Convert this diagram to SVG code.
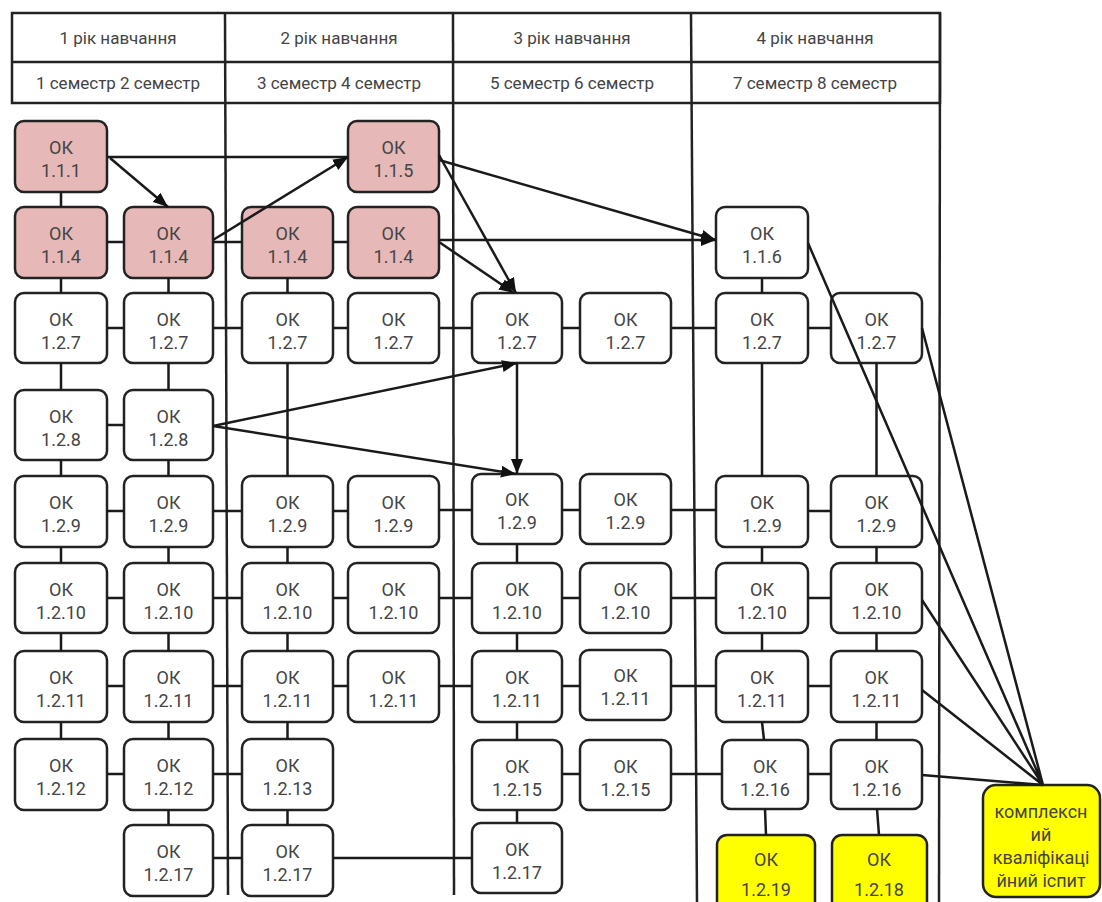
<svg xmlns="http://www.w3.org/2000/svg" width="1102" height="902" viewBox="0 0 1102 902">
<style>
.grid{stroke:#222;stroke-width:2.5;fill:none}
.hd{font-family:Roboto,"Liberation Sans",sans-serif;font-size:17px;fill:#444;text-anchor:middle}
.box{fill:#fff;stroke:#222;stroke-width:2.5}
.pk{fill:#e6b9b8}
.yl{fill:#ffff00}
.t{font-family:Roboto,"Liberation Sans",sans-serif;font-size:18px;fill:#444;text-anchor:middle}
.c{stroke:#1a1a1a;stroke-width:2.5;fill:none}
.a{stroke:#1a1a1a;stroke-width:2.5;fill:none;marker-end:url(#ah)}
</style>
<defs>
<marker id="ah" markerUnits="userSpaceOnUse" markerWidth="16" markerHeight="12" refX="15" refY="6" orient="auto"><path d="M0,0 L15,6 L0,12 z" fill="#111"/></marker>
</defs>
<rect width="1102" height="902" fill="#fff"/>
<g id="table">
<rect class="grid" x="12" y="13" width="928" height="90"/>
<line class="grid" x1="12" y1="62" x2="940" y2="62"/>
<line class="grid" x1="225" y1="13" x2="228" y2="895"/>
<line class="grid" x1="453" y1="13" x2="454" y2="895"/>
<line class="grid" x1="691" y1="13" x2="697" y2="902"/>
<line class="grid" x1="940" y1="13" x2="939" y2="902"/>
<text class="hd" x="118" y="44">1 рік навчання</text>
<text class="hd" x="339" y="44">2 рік навчання</text>
<text class="hd" x="572" y="44">3 рік навчання</text>
<text class="hd" x="815" y="44">4 рік навчання</text>
<text class="hd" x="118" y="89">1 семестр 2 семестр</text>
<text class="hd" x="339" y="89">3 семестр 4 семестр</text>
<text class="hd" x="572" y="89">5 семестр 6 семестр</text>
<text class="hd" x="815" y="89">7 семестр 8 семестр</text>
</g>
<g id="n-c1r1"><rect class="box pk" x="15" y="121" width="92" height="71" rx="9"/><text class="t" x="61" y="154">ОК</text><text class="t" x="61" y="177">1.1.1</text></g>
<g id="n-c4r1"><rect class="box pk" x="348" y="121" width="91" height="71" rx="9"/><text class="t" x="393.5" y="154">ОК</text><text class="t" x="393.5" y="177">1.1.5</text></g>
<g id="n-c1r2"><rect class="box pk" x="15" y="207" width="92" height="71" rx="9"/><text class="t" x="61" y="240">ОК</text><text class="t" x="61" y="263">1.1.4</text></g>
<g id="n-c2r2"><rect class="box pk" x="124" y="207" width="89" height="71" rx="9"/><text class="t" x="168.5" y="240">ОК</text><text class="t" x="168.5" y="263">1.1.4</text></g>
<g id="n-c3r2"><rect class="box pk" x="242" y="207" width="91" height="71" rx="9"/><text class="t" x="287.5" y="240">ОК</text><text class="t" x="287.5" y="263">1.1.4</text></g>
<g id="n-c4r2"><rect class="box pk" x="348" y="207" width="91" height="71" rx="9"/><text class="t" x="393.5" y="240">ОК</text><text class="t" x="393.5" y="263">1.1.4</text></g>
<g id="n-c7r2"><rect class="box" x="716" y="207" width="92" height="71" rx="9"/><text class="t" x="762" y="240">ОК</text><text class="t" x="762" y="263">1.1.6</text></g>
<g id="n-c1r3"><rect class="box" x="15" y="293" width="92" height="70" rx="9"/><text class="t" x="61" y="326">ОК</text><text class="t" x="61" y="349">1.2.7</text></g>
<g id="n-c2r3"><rect class="box" x="124" y="293" width="89" height="70" rx="9"/><text class="t" x="168.5" y="326">ОК</text><text class="t" x="168.5" y="349">1.2.7</text></g>
<g id="n-c3r3"><rect class="box" x="242" y="293" width="91" height="70" rx="9"/><text class="t" x="287.5" y="326">ОК</text><text class="t" x="287.5" y="349">1.2.7</text></g>
<g id="n-c4r3"><rect class="box" x="348" y="293" width="91" height="70" rx="9"/><text class="t" x="393.5" y="326">ОК</text><text class="t" x="393.5" y="349">1.2.7</text></g>
<g id="n-c5r3"><rect class="box" x="472" y="293" width="90" height="70" rx="9"/><text class="t" x="517" y="326">ОК</text><text class="t" x="517" y="349">1.2.7</text></g>
<g id="n-c6r3"><rect class="box" x="580" y="293" width="91" height="70" rx="9"/><text class="t" x="625.5" y="326">ОК</text><text class="t" x="625.5" y="349">1.2.7</text></g>
<g id="n-c7r3"><rect class="box" x="716" y="293" width="92" height="70" rx="9"/><text class="t" x="762" y="326">ОК</text><text class="t" x="762" y="349">1.2.7</text></g>
<g id="n-c8r3"><rect class="box" x="831" y="293" width="91" height="70" rx="9"/><text class="t" x="876.5" y="326">ОК</text><text class="t" x="876.5" y="349">1.2.7</text></g>
<g id="n-c1r4"><rect class="box" x="15" y="390" width="92" height="70" rx="9"/><text class="t" x="61" y="423">ОК</text><text class="t" x="61" y="446">1.2.8</text></g>
<g id="n-c2r4"><rect class="box" x="124" y="390" width="89" height="70" rx="9"/><text class="t" x="168.5" y="423">ОК</text><text class="t" x="168.5" y="446">1.2.8</text></g>
<g id="n-c1r5"><rect class="box" x="15" y="476" width="92" height="71" rx="9"/><text class="t" x="61" y="509">ОК</text><text class="t" x="61" y="532">1.2.9</text></g>
<g id="n-c2r5"><rect class="box" x="124" y="476" width="89" height="71" rx="9"/><text class="t" x="168.5" y="509">ОК</text><text class="t" x="168.5" y="532">1.2.9</text></g>
<g id="n-c3r5"><rect class="box" x="242" y="476" width="91" height="71" rx="9"/><text class="t" x="287.5" y="509">ОК</text><text class="t" x="287.5" y="532">1.2.9</text></g>
<g id="n-c4r5"><rect class="box" x="348" y="476" width="91" height="71" rx="9"/><text class="t" x="393.5" y="509">ОК</text><text class="t" x="393.5" y="532">1.2.9</text></g>
<g id="n-c5r5"><rect class="box" x="472" y="474" width="90" height="70" rx="9"/><text class="t" x="517" y="506">ОК</text><text class="t" x="517" y="529">1.2.9</text></g>
<g id="n-c6r5"><rect class="box" x="580" y="474" width="91" height="70" rx="9"/><text class="t" x="625.5" y="506">ОК</text><text class="t" x="625.5" y="529">1.2.9</text></g>
<g id="n-c7r5"><rect class="box" x="716" y="476" width="92" height="71" rx="9"/><text class="t" x="762" y="509">ОК</text><text class="t" x="762" y="532">1.2.9</text></g>
<g id="n-c8r5"><rect class="box" x="831" y="476" width="91" height="71" rx="9"/><text class="t" x="876.5" y="509">ОК</text><text class="t" x="876.5" y="532">1.2.9</text></g>
<g id="n-c1r6"><rect class="box" x="15" y="563" width="92" height="70" rx="9"/><text class="t" x="61" y="596">ОК</text><text class="t" x="61" y="619">1.2.10</text></g>
<g id="n-c2r6"><rect class="box" x="124" y="563" width="89" height="70" rx="9"/><text class="t" x="168.5" y="596">ОК</text><text class="t" x="168.5" y="619">1.2.10</text></g>
<g id="n-c3r6"><rect class="box" x="242" y="563" width="91" height="70" rx="9"/><text class="t" x="287.5" y="596">ОК</text><text class="t" x="287.5" y="619">1.2.10</text></g>
<g id="n-c4r6"><rect class="box" x="348" y="563" width="91" height="70" rx="9"/><text class="t" x="393.5" y="596">ОК</text><text class="t" x="393.5" y="619">1.2.10</text></g>
<g id="n-c5r6"><rect class="box" x="472" y="563" width="90" height="70" rx="9"/><text class="t" x="517" y="596">ОК</text><text class="t" x="517" y="619">1.2.10</text></g>
<g id="n-c6r6"><rect class="box" x="580" y="563" width="91" height="70" rx="9"/><text class="t" x="625.5" y="596">ОК</text><text class="t" x="625.5" y="619">1.2.10</text></g>
<g id="n-c7r6"><rect class="box" x="716" y="563" width="92" height="70" rx="9"/><text class="t" x="762" y="596">ОК</text><text class="t" x="762" y="619">1.2.10</text></g>
<g id="n-c8r6"><rect class="box" x="831" y="563" width="91" height="70" rx="9"/><text class="t" x="876.5" y="596">ОК</text><text class="t" x="876.5" y="619">1.2.10</text></g>
<g id="n-c1r7"><rect class="box" x="15" y="651" width="92" height="71" rx="9"/><text class="t" x="61" y="684">ОК</text><text class="t" x="61" y="707">1.2.11</text></g>
<g id="n-c2r7"><rect class="box" x="124" y="651" width="89" height="71" rx="9"/><text class="t" x="168.5" y="684">ОК</text><text class="t" x="168.5" y="707">1.2.11</text></g>
<g id="n-c3r7"><rect class="box" x="242" y="651" width="91" height="71" rx="9"/><text class="t" x="287.5" y="684">ОК</text><text class="t" x="287.5" y="707">1.2.11</text></g>
<g id="n-c4r7"><rect class="box" x="348" y="651" width="91" height="71" rx="9"/><text class="t" x="393.5" y="684">ОК</text><text class="t" x="393.5" y="707">1.2.11</text></g>
<g id="n-c5r7"><rect class="box" x="472" y="651" width="90" height="71" rx="9"/><text class="t" x="517" y="684">ОК</text><text class="t" x="517" y="707">1.2.11</text></g>
<g id="n-c6r7"><rect class="box" x="580" y="650" width="91" height="70" rx="9"/><text class="t" x="625.5" y="682">ОК</text><text class="t" x="625.5" y="705">1.2.11</text></g>
<g id="n-c7r7"><rect class="box" x="716" y="651" width="92" height="71" rx="9"/><text class="t" x="762" y="684">ОК</text><text class="t" x="762" y="707">1.2.11</text></g>
<g id="n-c8r7"><rect class="box" x="831" y="651" width="91" height="71" rx="9"/><text class="t" x="876.5" y="684">ОК</text><text class="t" x="876.5" y="707">1.2.11</text></g>
<g id="n-c1r8"><rect class="box" x="15" y="739" width="92" height="71" rx="9"/><text class="t" x="61" y="772">ОК</text><text class="t" x="61" y="795">1.2.12</text></g>
<g id="n-c2r8"><rect class="box" x="124" y="739" width="89" height="71" rx="9"/><text class="t" x="168.5" y="772">ОК</text><text class="t" x="168.5" y="795">1.2.12</text></g>
<g id="n-c3r8"><rect class="box" x="242" y="739" width="91" height="71" rx="9"/><text class="t" x="287.5" y="772">ОК</text><text class="t" x="287.5" y="795">1.2.13</text></g>
<g id="n-c5r8"><rect class="box" x="472" y="740" width="90" height="70" rx="9"/><text class="t" x="517" y="773">ОК</text><text class="t" x="517" y="796">1.2.15</text></g>
<g id="n-c6r8"><rect class="box" x="580" y="740" width="91" height="70" rx="9"/><text class="t" x="625.5" y="773">ОК</text><text class="t" x="625.5" y="796">1.2.15</text></g>
<g id="n-c7r8"><rect class="box" x="722" y="740" width="86" height="69" rx="9"/><text class="t" x="765" y="773">ОК</text><text class="t" x="765" y="796">1.2.16</text></g>
<g id="n-c8r8"><rect class="box" x="831" y="740" width="91" height="69" rx="9"/><text class="t" x="876.5" y="773">ОК</text><text class="t" x="876.5" y="796">1.2.16</text></g>
<g id="n-c2r9"><rect class="box" x="124" y="825" width="89" height="71" rx="9"/><text class="t" x="168.5" y="858">ОК</text><text class="t" x="168.5" y="881">1.2.17</text></g>
<g id="n-c3r9"><rect class="box" x="242" y="825" width="91" height="71" rx="9"/><text class="t" x="287.5" y="858">ОК</text><text class="t" x="287.5" y="881">1.2.17</text></g>
<g id="n-c5r9"><rect class="box" x="472" y="823" width="90" height="70" rx="9"/><text class="t" x="517" y="856">ОК</text><text class="t" x="517" y="879">1.2.17</text></g>
<g id="n-c7r9"><rect class="box yl" x="717" y="835" width="98" height="80" rx="10"/><text class="t" x="766" y="866">ОК</text><text class="t" x="766" y="896">1.2.19</text></g>
<g id="n-c8r9"><rect class="box yl" x="832" y="835" width="95" height="80" rx="10"/><text class="t" x="879" y="866">ОК</text><text class="t" x="879" y="896">1.2.18</text></g>
<g id="n-exam"><rect class="box yl" x="983" y="785" width="117" height="112" rx="13"/>
<text class="t" font-size="17" x="1041" y="818">комплексн</text>
<text class="t" font-size="17" x="1041" y="841">ий</text>
<text class="t" font-size="17" x="1041" y="864">кваліфікаці</text>
<text class="t" font-size="17" x="1041" y="887">йний іспит</text></g>
<g id="connectors">
<path class="c" d="M61,192V207M61,278V293M61,363V390M61,460V476M61,547V563M61,633V651M61,722V739"/>
<path class="c" d="M168.5,278V293M168.5,363V390M168.5,460V476M168.5,547V563M168.5,633V651M168.5,722V739M168.5,810V825"/>
<path class="c" d="M287.5,278V293M287.5,363V476M287.5,547V563M287.5,633V651M287.5,722V739M287.5,810V825"/>
<path class="c" d="M517,544V563M517,633V651M517,722V740M517,810V823"/>
<path class="c" d="M762,278V293M762,363V476M762,547V563M762,633V651M762,722L764,740M765,809L766,835"/>
<path class="c" d="M876.5,363V476M876.5,547V563M876.5,633V651M876.5,722V740M877,809L879,835"/>
<path class="c" d="M107,242H124M213,242H242M333,242H348"/>
<path class="c" d="M107,328H124M213,328H242M333,328H348M439,328H472M562,328H580M671,328H716M808,328H831"/>
<path class="c" d="M107,425H124"/>
<path class="c" d="M107,511H124M213,511H242M333,511H348M439,510H472M562,510H580M671,510H716M808,511H831"/>
<path class="c" d="M107,598H124M213,598H242M333,598H348M439,598H472M562,598H580M671,598H716M808,598H831"/>
<path class="c" d="M107,686H124M213,686H242M333,686H348M439,686H472M562,686H580M671,686H716M808,686H831"/>
<path class="c" d="M107,774H124M213,774H242M562,774H580M671,774H722M808,774H831"/>
<path class="c" d="M213,858H242M333,858H472"/>
<path class="c" d="M107,157H348"/>
<path class="a" d="M110,158L168,207"/>
<path class="a" d="M213,240L348,157"/>
<path class="a" d="M439,160L716,240"/>
<path class="a" d="M439,155L516,293"/>
<path class="a" d="M439,240H716"/>
<path class="a" d="M439,242L514,293"/>
<path class="a" d="M213,426L517,363"/>
<path class="a" d="M213,426L516,474"/>
<path class="a" d="M517,363V474"/>
<path class="c" d="M808,243L1043,785M922,328L1043,785M922,600L1043,785M922,690L1043,785M922,775L1043,785"/>
</g>
</svg>
